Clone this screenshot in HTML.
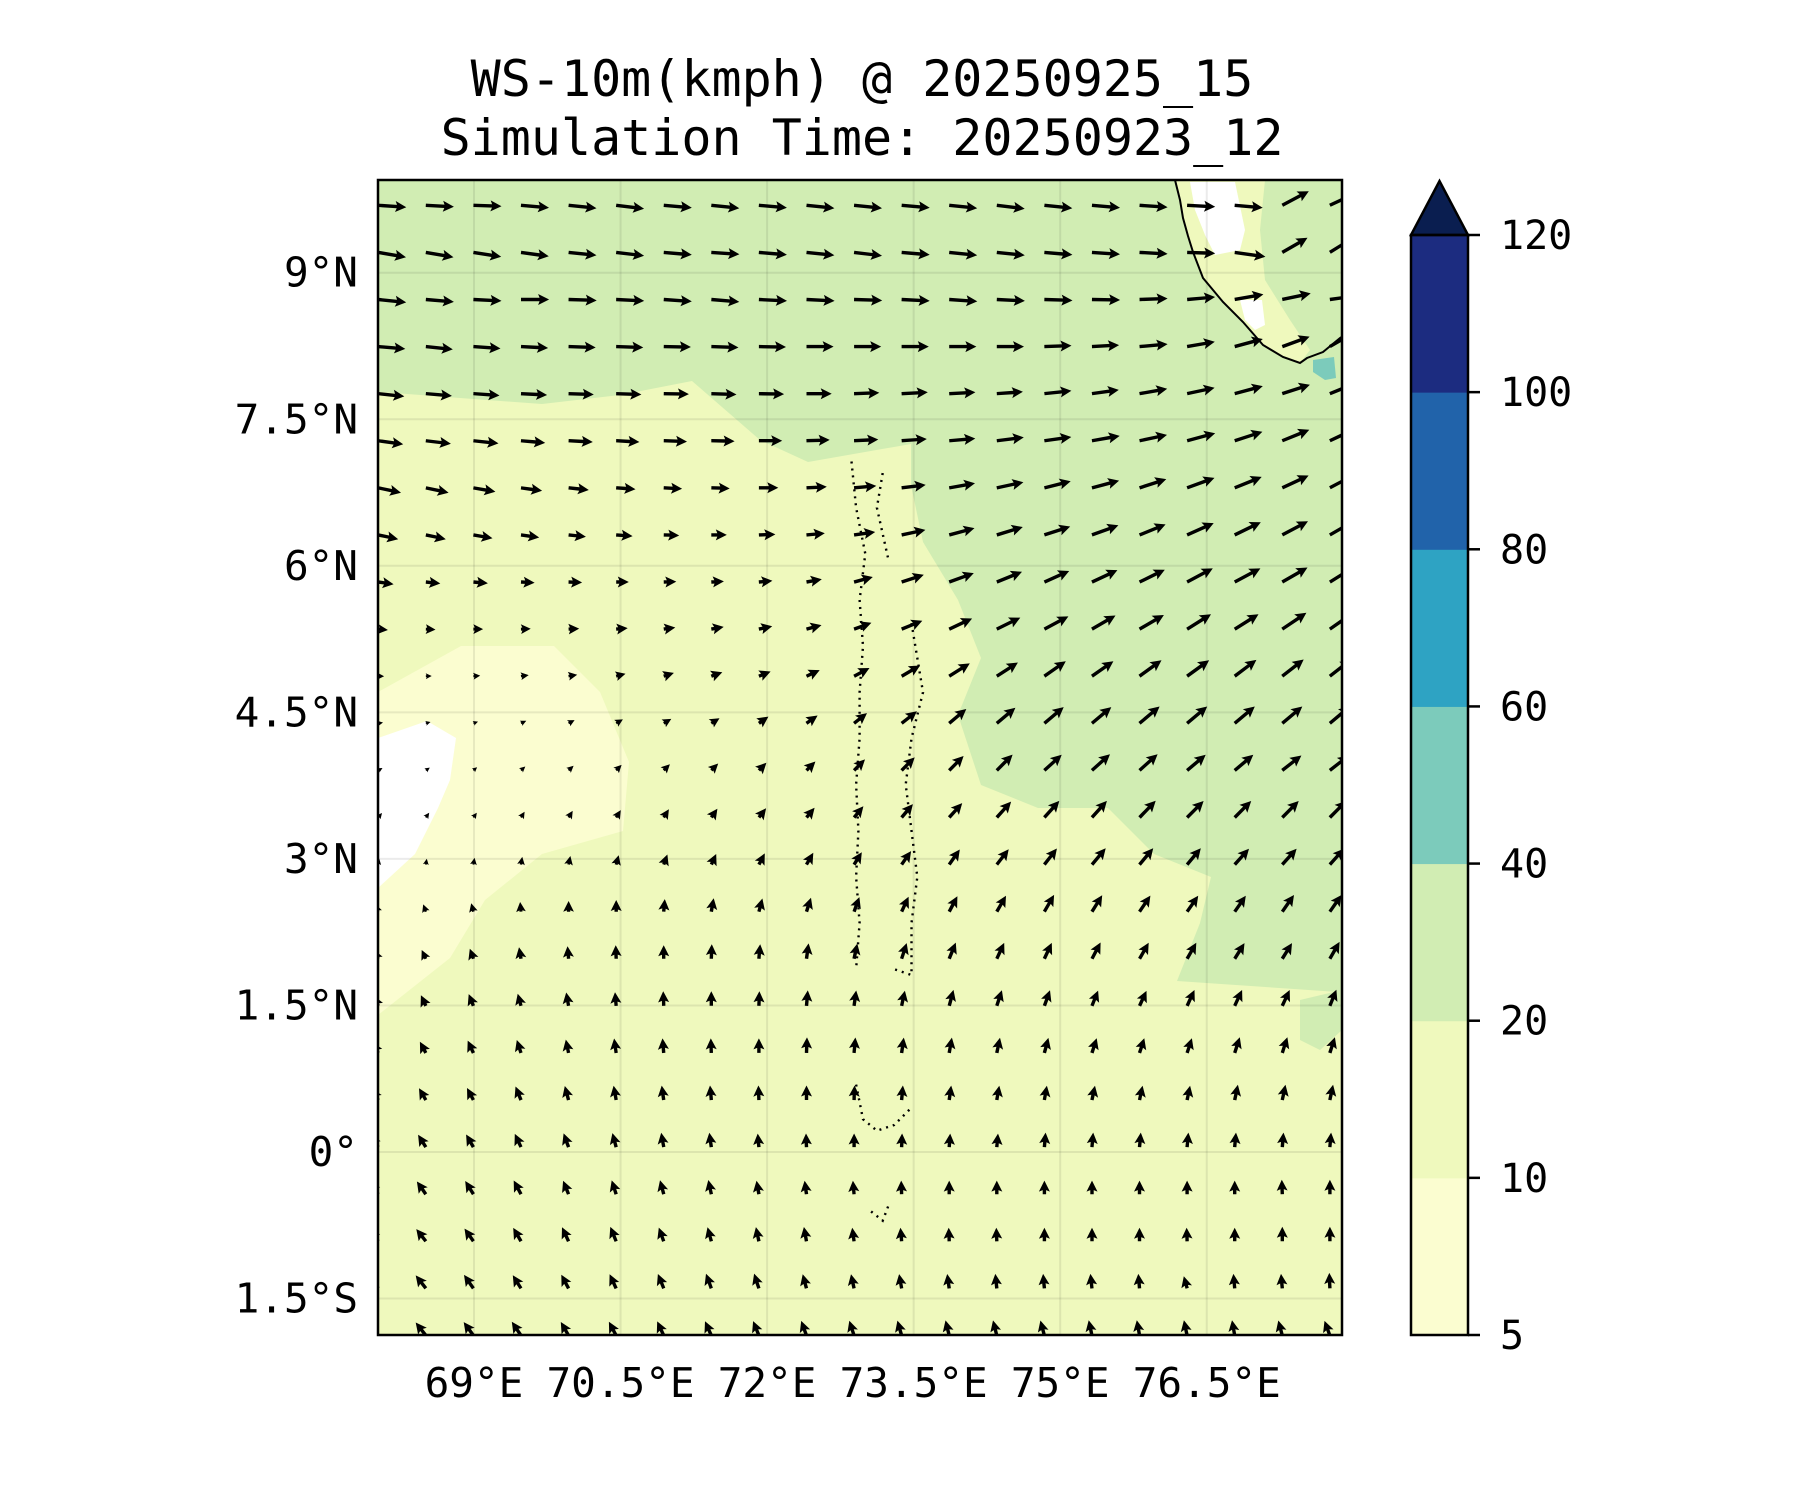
<!DOCTYPE html>
<html><head><meta charset="utf-8">
<style>
html,body{margin:0;padding:0;background:#fff;}
svg{display:block;}
text{font-family:"DejaVu Sans Mono","Liberation Mono",monospace;fill:#000;}
</style></head>
<body>
<svg id="chart" width="1800" height="1500" viewBox="0 0 1800 1500" xmlns="http://www.w3.org/2000/svg">
  <rect x="0" y="0" width="1800" height="1500" fill="#fff"/>
  <text x="862" y="96" font-size="50" text-anchor="middle">WS-10m(kmph) @ 20250925_15</text>
  <text x="862" y="155" font-size="50" text-anchor="middle">Simulation Time: 20250923_12</text>
  <defs><clipPath id="plotclip"><rect x="378" y="180" width="964" height="1155"/></clipPath></defs>
  <g id="map" clip-path="url(#plotclip)">
    <rect x="378" y="180" width="964" height="1155" fill="#eff9bd"/>
    <polygon fill="#d1edb3" points="378,180 1342,180 1342,992 1338,992 1177,981 1200,923 1211,877 1154,854 1108,808 1038,808 981,785 958,715 981,658 958,600 923,542 911,485 911,444 808,462 760,440 692,381 620,395 542,404 460,398 381,392 378,392"/>
    <polygon fill="#d1edb3" points="1300,1000 1342,990 1342,1030 1320,1050 1300,1040"/>
    <polygon fill="#fbfdd0" points="378,692 461,646 554,646 600,692 629,762 623,831 542,854 485,900 450,958 378,1015"/>
    <polygon fill="#ffffff" points="378,738 427,721 456,738 450,780 438,808 415,854 378,888"/>
    <polygon fill="#eff9bd" points="1175,180 1265,180 1260,230 1265,280 1290,320 1310,350 1300,363 1283,357 1263,345 1243,322 1223,302 1203,278 1193,252 1183,218"/>
    <polygon fill="#ffffff" points="1190,182 1235,182 1245,230 1240,250 1215,255 1205,235 1195,210"/>
    <polygon fill="#ffffff" points="1240,300 1262,300 1265,325 1255,330 1245,320"/>
    <polygon fill="#7ccbbb" points="1313,360 1334,357 1336,378 1325,380 1313,372"/>
    <g id="grid"></g>
    <polyline fill="none" stroke="#000" stroke-width="2" points="1175,180 1180,200 1183,218 1188,236 1193,252 1203,278 1223,302 1243,322 1263,345 1283,357 1300,363 1307,358 1323,352 1340,338 1346,334"/>
    <g id="islands"></g>
    <g id="arrows"></g>
  </g>
  <rect x="378" y="180" width="964" height="1155" fill="none" stroke="#000" stroke-width="2.5"/>
  <g id="yticks"></g>
  <g id="xticks"></g>
  <g id="cbar"></g>
</svg>
<script>
// ---- data ----
const lonTicks = [69, 70.5, 72, 73.5, 75, 76.5];
const lonTickLabels = ["69°E", "70.5°E", "72°E", "73.5°E", "75°E", "76.5°E"];
const latTicks = [9, 7.5, 6, 4.5, 3, 1.5, 0, -1.5];
const latTickLabels = ["9°N", "7.5°N", "6°N", "4.5°N", "3°N", "1.5°N", "0°", "1.5°S"];
const cbarLevels = [5, 10, 20, 40, 60, 80, 100, 120];
const cbarColors = ["#fbfdd0", "#eff9bd", "#d1edb3", "#7ccbbb", "#2ea3c3", "#2163aa", "#1c2c80"];
const cbarOverColor = "#0a1e50";
const vecLon0 = 68.02, vecDLon = 0.487;
const vecLat0 = 9.69, vecDLat = -0.482;
// wind direction (deg, 0=east, 90=north) per row (north to south), 21 columns
const windDir = [
[-4,-3,-2,-5,-6,-7,-5,-6,-5,-6,-6,-5,-6,-7,-6,-5,-4,-3,-5,28,25],
[-10,-10,-9,-8,-6,-7,-5,-4,-5,-6,-7,-5,-6,-6,-5,-4,-3,-2,-8,30,32],
[-6,-5,-3,0,-2,-3,-4,-5,-3,-3,-2,-3,-4,-3,-2,-1,2,5,10,12,8],
[-5,-6,-4,-3,-2,-2,-1,-2,-1,0,0,0,0,0,2,3,5,10,15,20,30],
[-6,-5,-4,-3,-2,-2,-1,-2,-1,0,2,3,3,4,6,8,10,12,15,18,22],
[-8,-7,-6,-5,-3,-3,-2,-1,0,2,3,4,5,7,8,10,12,15,18,22,25],
[-12,-12,-10,-8,-6,-4,-3,-2,0,3,5,7,10,12,14,15,18,20,22,25,28],
[-12,-12,-10,-8,-6,-4,-2,0,2,5,8,12,15,17,18,20,22,24,26,28,30],
[-8,-6,-5,-3,-2,0,2,3,5,10,15,18,20,22,24,25,26,28,28,30,32],
[-5,-3,0,2,3,5,8,10,12,15,20,22,25,26,28,30,30,32,32,34,35],
[0,2,5,8,10,15,18,20,22,25,28,30,32,33,35,35,36,36,37,38,38],
[10,15,20,25,28,30,30,32,35,35,38,38,40,40,40,40,40,40,40,40,40],
[30,35,40,42,42,45,45,45,45,45,45,45,45,45,42,42,42,40,40,38,38],
[50,55,55,58,58,58,58,55,52,50,50,50,48,48,48,48,46,45,45,45,45],
[80,80,80,80,78,75,70,65,62,60,58,55,55,52,52,50,50,50,48,48,48],
[110,110,105,95,90,90,85,80,75,72,70,65,62,60,60,58,56,55,55,55,55],
[115,115,110,100,95,92,90,88,85,82,78,72,68,65,65,62,60,60,58,58,60],
[115,115,112,105,100,95,92,90,88,85,82,78,75,72,70,68,65,65,65,65,68],
[120,118,115,108,102,98,95,92,90,88,85,82,80,78,75,72,72,72,72,72,72],
[120,120,118,112,105,100,98,95,92,90,88,85,82,80,80,78,78,78,78,78,78],
[125,122,120,115,110,105,100,98,95,92,90,88,86,85,85,85,85,85,85,85,85],
[125,125,122,118,112,108,105,102,100,98,95,92,90,90,90,90,90,90,90,92,90],
[125,128,125,120,115,112,110,105,102,100,98,95,92,92,90,90,90,92,90,90,90],
[128,128,125,122,118,115,112,110,108,105,102,100,98,96,95,96,95,105,95,95,92],
[128,128,126,124,120,118,115,114,112,110,108,106,104,104,105,102,100,102,100,105,110]
];
// wind speed (kmph) per row
const windSpd = [
[29,29,29,29,29,29,29,29,29,29,29,29,29,29,29,29,29,29,29,31,31],
[29,29,29,29,29,29,29,29,29,29,29,29,29,29,29,29,29,29,32,30,30],
[29,29,29,29,29,29,29,29,29,29,29,29,29,29,29,29,29,29,30,30,30],
[28,28,28,28,28,28,28,28,28,28,28,28,28,28,28,28,29,29,30,30,31],
[27,27,27,27,26,26,26,26,26,26,26,27,27,27,28,28,29,29,30,30,30],
[26,26,26,25,25,24,24,24,24,24,25,26,27,28,28,29,29,30,30,30,30],
[24,24,23,22,21,20,19,19,20,21,23,25,27,28,28,29,29,30,30,30,30],
[21,21,20,19,18,17,16,16,17,19,22,25,27,28,28,29,29,30,30,30,30],
[16,15,15,14,14,13,13,13,14,16,20,24,27,28,28,29,29,30,30,30,30],
[10,10,10,10,11,12,12,13,14,16,19,23,26,27,28,28,29,29,29,30,30],
[6,6,7,8,9,10,11,12,13,15,18,22,25,26,27,27,28,28,28,28,28],
[5,5,5,6,7,8,9,10,12,14,17,20,23,25,26,26,27,27,27,27,27],
[5,5,5,6,7,8,9,10,11,13,16,19,21,23,24,25,25,25,25,25,25],
[6,6,6,7,8,9,10,11,12,13,15,18,20,22,23,23,24,24,24,24,24],
[6,6,7,8,9,10,11,12,13,14,15,17,19,20,21,22,22,22,22,22,22],
[8,8,9,10,11,12,13,14,14,15,16,17,18,19,20,20,20,20,20,21,21],
[10,10,11,12,13,14,14,15,15,16,16,17,18,18,18,19,19,19,19,19,20],
[12,12,13,13,14,14,15,15,15,16,16,16,17,17,17,17,17,18,18,18,18],
[13,13,14,14,14,15,15,15,15,16,16,16,16,16,16,16,16,16,17,17,17],
[14,14,14,15,15,15,15,15,15,15,15,15,15,15,15,15,15,15,16,16,16],
[15,15,15,15,15,15,15,15,14,14,14,14,14,14,15,15,15,15,15,15,15],
[16,16,16,16,15,15,15,15,14,14,14,14,14,14,14,14,14,14,14,15,15],
[16,16,16,16,16,16,15,15,15,15,14,14,14,14,14,14,14,14,14,15,15],
[17,17,17,16,16,16,16,16,16,15,15,15,15,15,15,15,15,13,15,15,16],
[17,17,17,17,16,16,16,16,16,16,16,16,16,16,16,16,16,16,16,16,16]
];
// ---- axes ----
const X0 = 378, X1 = 1342, Y0 = 180, Y1 = 1335;
const PXDEG = 97.7;
function xOf(lon){ return 474 + (lon - 69) * PXDEG; }
function yOf(lat){ return 1152 - lat * PXDEG; }
const NS = "http://www.w3.org/2000/svg";
function mk(tag, attrs, parent){ const e = document.createElementNS(NS, tag); for (const k in attrs) e.setAttribute(k, attrs[k]); parent.appendChild(e); return e; }

const grid = document.getElementById('grid');
lonTicks.forEach(function(lon){
  const l = mk('line', {x1:xOf(lon), x2:xOf(lon), y1:Y0, y2:Y1, stroke:'#000', 'stroke-opacity':0.08, 'stroke-width':2}, grid);
  
  
});
latTicks.forEach(function(lat){
  const l = mk('line', {x1:X0, x2:X1, y1:yOf(lat), y2:yOf(lat), stroke:'#000', 'stroke-opacity':0.08, 'stroke-width':2}, grid);
  
  
});
const xt = document.getElementById('xticks');
lonTicks.forEach(function(lon, i){
  const t = mk('text', {x:xOf(lon), y:1397, 'font-size':41, 'text-anchor':'middle'}, xt);
  t.textContent = lonTickLabels[i];
  
  
});
const yt = document.getElementById('yticks');
latTicks.forEach(function(lat, i){
  const t = mk('text', {x:358, y:yOf(lat) + 14, 'font-size':41, 'text-anchor':'end'}, yt);
  t.textContent = latTickLabels[i];
  
  
});

// ---- islands (dotted atoll chain) ----
const isl = document.getElementById('islands');
const chains = [
 [[738,400],[742,440],[750,480],[745,520],[748,560],[745,600],[745,640],[742,680],[744,720],[742,760],[745,800],[742,840]],
 [[765,410],[760,440],[770,485]],
 [[790,540],[800,600],[790,640],[785,680],[790,720],[795,760],[790,800],[790,845],[775,840]],
 [[742,940],[748,970],[760,980],[775,975],[790,960]],
 [[755,1050],[765,1058],[770,1045]]
];
chains.forEach(function(c){
  const p = mk('polyline', {points:c.map(function(q){return (q[0]*1.1538).toFixed(1)+','+(q[1]*1.1538).toFixed(1);}).join(' '), fill:'none', stroke:'#000', 'stroke-width':2.4, 'stroke-dasharray':'2 5'}, isl);
  
  
});

// ---- quiver ----
const arrows = document.getElementById('arrows');
const SCALE = 0.97; // px per kmph
windDir.forEach(function(row, r){
  row.forEach(function(dir, c){
    const spd = windSpd[r][c];
    const lon = vecLon0 + c * vecDLon, lat = vecLat0 + r * vecDLat;
    const x = xOf(lon), y = yOf(lat);
    const L = spd * SCALE;
    let sw = 1.7, hl = 11, hw = 5.5, ha = 9.5;
    let s = 1;
    if (L < hl) { s = L / hl; }
    const sl = Math.max(L - ha * s, 0);
    const pts = [[0,-sw*s],[sl,-sw*s],[L-hl*s,-hw*s],[L,0],[L-hl*s,hw*s],[sl,sw*s],[0,sw*s]];
    const a = -dir * Math.PI / 180;
    const ca = Math.cos(a), sa = Math.sin(a);
    const str = pts.map(function(p){ return (x + p[0]*ca - p[1]*sa).toFixed(1) + ',' + (y + p[0]*sa + p[1]*ca).toFixed(1); }).join(' ');
    const g = mk('polygon', {points:str, fill:'#000'}, arrows);
    
    
  });
});

// ---- colorbar ----
const cb = document.getElementById('cbar');
const CBX = 1411, CBW = 57, CBT = 235, CBB = 1335;
const step = (CBB - CBT) / cbarColors.length;
cbarColors.forEach(function(col, i){
  const r = mk('rect', {x:CBX, y:CBB - (i+1)*step, width:CBW, height:step + 0.5, fill:col}, cb);
  
  
});
const tri = mk('polygon', {points:CBX+','+CBT+' '+(CBX+CBW)+','+CBT+' '+(CBX+CBW/2)+','+181, fill:cbarOverColor, stroke:'#000', 'stroke-width':2.5, 'stroke-linejoin':'miter'}, cb);


const cbf = mk('rect', {x:CBX, y:CBT, width:CBW, height:CBB-CBT, fill:'none', stroke:'#000', 'stroke-width':2.5}, cb);


cbarLevels.forEach(function(v, i){
  const yy = CBB - i * step;
  const tk = mk('line', {x1:CBX+CBW, x2:CBX+CBW+12, y1:yy, y2:yy, stroke:'#000', 'stroke-width':2.5}, cb);
  
  
  const t = mk('text', {x:1500, y:yy + 14, 'font-size':40}, cb);
  t.textContent = String(v);
  
  
});
</script>
</body></html>
